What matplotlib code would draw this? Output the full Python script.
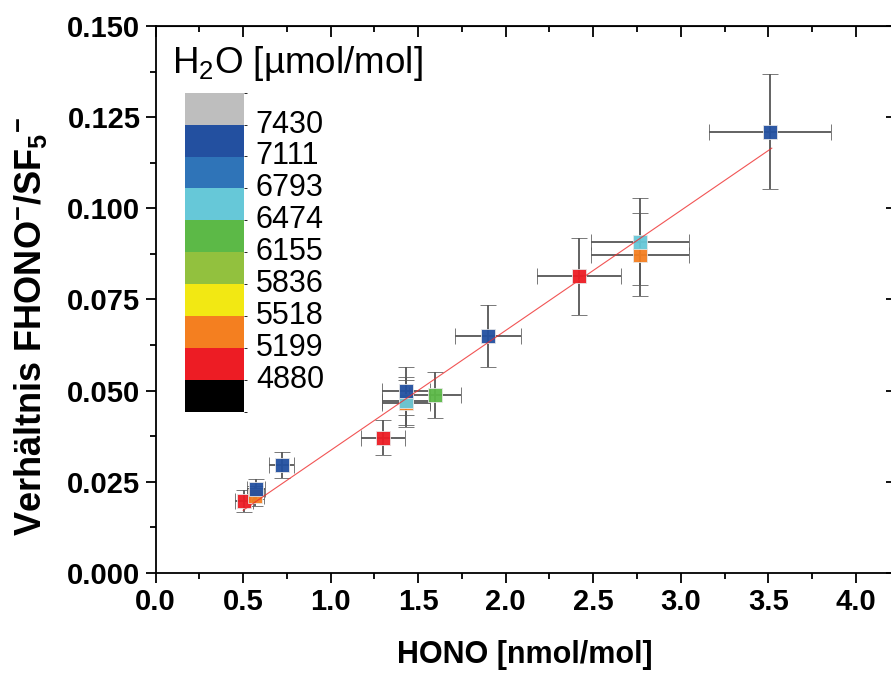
import matplotlib
matplotlib.use("Agg")
import matplotlib.pyplot as plt
from matplotlib.colors import ListedColormap, BoundaryNorm
from matplotlib.colorbar import ColorbarBase
from matplotlib.ticker import MultipleLocator, FormatStrFormatter
import matplotlib.transforms as mtransforms

plt.rcParams["font.family"] = ["Liberation Sans", "DejaVu Sans"]
plt.rcParams["mathtext.default"] = "regular"

# H2O colour scale, bottom to top
h2o_colors = ["#000000", "#ed1c24", "#f47f20", "#f2e813", "#92c13e",
              "#5cb947", "#66c8d8", "#2f74b8", "#2350a0", "#bebebe"]
h2o_labels = ["4880", "5199", "5518", "5836", "6155", "6474", "6793", "7111", "7430"]

# measurements
hono = [0.505, 0.57, 0.573, 0.72, 1.30, 1.43, 1.43, 1.43, 1.596, 1.90, 2.419, 2.767, 2.767, 3.51]
hono_err = [0.05, 0.05, 0.05, 0.07, 0.126, 0.135, 0.135, 0.135, 0.15, 0.19, 0.24, 0.278, 0.278, 0.35]
ratio = [0.0197, 0.0212, 0.0230, 0.0296, 0.0371, 0.0465, 0.0472, 0.0499, 0.0489, 0.0651, 0.0814, 0.0873, 0.0909, 0.1210]
ratio_err = [0.003, 0.0027, 0.0027, 0.0035, 0.0048, 0.0065, 0.0065, 0.0066, 0.0063, 0.0085, 0.0106, 0.0113, 0.0118, 0.0157]
point_level = [1, 2, 8, 8, 1, 2, 6, 8, 5, 8, 1, 2, 6, 8]

# linear fit
fit_x = [0.50, 3.52]
fit_y = [0.0172, 0.1165]

fig = plt.figure(figsize=(8.91, 6.75), dpi=100)
ax = fig.add_axes([0.1747, 0.1511, 0.829, 0.8104])

for x, xe, y, ye, lev in zip(hono, hono_err, ratio, ratio_err, point_level):
    ax.errorbar(x, y, xerr=xe, yerr=ye, fmt="s", ms=9.5, mfc=h2o_colors[lev],
                mec="#e8e8e8", mew=0.6, ecolor="#5a5a5a", elinewidth=1.4,
                capsize=6, capthick=1.4, alpha=0.95, zorder=3)

ax.plot(fit_x, fit_y, color="#ee2a2a", lw=0.8, alpha=0.8, zorder=4)

ax.set_xlim(0, 4.22)
ax.set_ylim(0, 0.15)
ax.xaxis.set_major_locator(MultipleLocator(0.5))
ax.xaxis.set_minor_locator(MultipleLocator(0.25))
ax.yaxis.set_major_locator(MultipleLocator(0.025))
ax.yaxis.set_minor_locator(MultipleLocator(0.0125))
ax.xaxis.set_major_formatter(FormatStrFormatter("%.1f"))
ax.yaxis.set_major_formatter(FormatStrFormatter("%.3f"))
ax.tick_params(which="major", direction="out", length=7, width=1.3,
               labelsize=21, pad=4)
ax.tick_params(which="minor", direction="out", length=4, width=1.3)
for lab in ax.get_xticklabels() + ax.get_yticklabels():
    lab.set_fontweight("bold")
for sp in ax.spines.values():
    sp.set_linewidth(1.3)

top = ax.secondary_xaxis("top")
top.xaxis.set_major_locator(MultipleLocator(0.5))
top.xaxis.set_minor_locator(MultipleLocator(0.25))
top.tick_params(which="major", direction="in", length=8, width=1.3, labeltop=False)
top.tick_params(which="minor", direction="in", length=4, width=1.3)
right = ax.secondary_yaxis("right")
right.yaxis.set_major_locator(MultipleLocator(0.025))
right.tick_params(which="major", direction="in", length=6, width=1.3, labelright=False)

ax.set_xlabel("HONO [nmol/mol]", fontsize=22, fontweight="bold", labelpad=17)
ax.set_ylabel("Verhältnis FHONO$^{-}$/SF$_5$$^{-}$", fontsize=26, fontweight="bold")
ax.yaxis.set_label_coords(-0.145, 0.45)

# colour scale legend
cax = fig.add_axes([185 / 891, (675 - 411.7) / 675, 59 / 891, 319 / 675])
ColorbarBase(cax, cmap=ListedColormap(h2o_colors), norm=BoundaryNorm(range(11), 10),
             orientation="vertical")
cax.set_yticks([])
cax.set_xticks([])
cax.set_frame_on(False)
for sp in cax.spines.values():
    sp.set_visible(False)
trans = mtransforms.blended_transform_factory(cax.transAxes, cax.transData)
for i, lab in enumerate(h2o_labels):
    cax.text(1.2, i + 1, lab, transform=trans, fontsize=22, va="center", ha="left")
fig.text(171.7 / 891, 1 - 73 / 675, "H$_{2}$O [µmol/mol]", fontsize=26.5,
         ha="left", va="baseline")

fig.savefig("out.png", dpi=100)
